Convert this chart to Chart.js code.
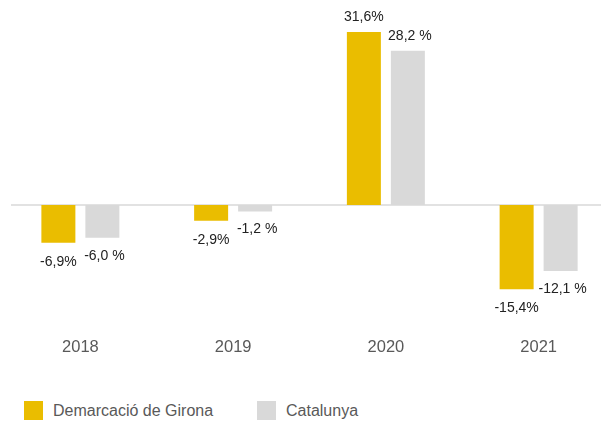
<!DOCTYPE html>
<html><head><meta charset="utf-8">
<script src="https://cdn.jsdelivr.net/npm/chart.js@4.4.1/dist/chart.umd.min.js"></script>
<style>
html,body{margin:0;padding:0;background:#fff;width:601px;height:423px;overflow:hidden;position:relative;}
#wrap{position:absolute;left:4px;top:0;width:611px;height:358px;}
#legend{position:absolute;left:0;top:401px;width:601px;height:19px;font-family:"Liberation Sans",Arial,sans-serif;font-size:16px;color:#595959;}
.item{position:absolute;top:0;height:19px;white-space:nowrap;}
.item:nth-child(1){left:24px;}
.item:nth-child(2){left:257px;}
.box{position:absolute;left:0;top:0;width:19px;height:19px;}
.txt{position:absolute;left:29px;top:0;line-height:19px;}
</style></head><body>
<div id="wrap"><canvas id="c" width="611" height="358"></canvas></div>
<div id="legend"></div>
<script>
const years = ['2018', '2019', '2020', '2021'];
const seriesNames = ['Demarcació de Girona', 'Catalunya'];
const gironaValues = [-6.9, -2.9, 31.6, -15.4];
const catalunyaValues = [-6.0, -1.2, 28.2, -12.1];
const gironaLabels = ['-6,9%', '-2,9%', '31,6%', '-15,4%'];
const catalunyaLabels = ['-6,0 %', '-1,2 %', '28,2 %', '-12,1 %'];
const seriesColors = ['#EABD00', '#D9D9D9'];
const valueLabels = [gironaLabels, catalunyaLabels];

const zeroLine = {
  id: 'zeroLine',
  beforeDatasetsDraw(chart) {
    const ctx = chart.ctx, a = chart.chartArea;
    const y = chart.scales.y.getPixelForValue(0);
    ctx.save();
    ctx.strokeStyle = '#D9D9D9';
    ctx.lineWidth = 1.5;
    ctx.beginPath();
    ctx.moveTo(a.left + 7, y);
    ctx.lineTo(a.right, y);
    ctx.stroke();
    ctx.restore();
  }
};

const barLabels = {
  id: 'barLabels',
  afterDatasetsDraw(chart) {
    const ctx = chart.ctx;
    ctx.save();
    ctx.font = '14px "Liberation Sans", Arial, sans-serif';
    ctx.fillStyle = '#222222';
    ctx.textAlign = 'center';
    ctx.textBaseline = 'middle';
    chart.data.datasets.forEach((ds, di) => {
      const meta = chart.getDatasetMeta(di);
      meta.data.forEach((el, i) => {
        const v = ds.data[i];
        const dx = di === 1 ? 2 : 0;
        const y = v >= 0 ? el.y - 15 : el.y + (di === 1 ? 18 : 19);
        ctx.fillText(valueLabels[di][i], el.x + dx, y);
      });
    });
    ctx.restore();
  }
};

const chart = new Chart(document.getElementById('c'), {
  type: 'bar',
  data: {
    labels: years,
    datasets: [
      { label: seriesNames[0], data: gironaValues, backgroundColor: seriesColors[0], borderWidth: 0 },
      { label: seriesNames[1], data: catalunyaValues, backgroundColor: seriesColors[1], borderWidth: 0 }
    ]
  },
  options: {
    responsive: false,
    animation: false,
    events: [],
    layout: { padding: { top: 8, bottom: 0, left: 0, right: 0 } },
    datasets: { bar: { categoryPercentage: 0.576, barPercentage: 0.773 } },
    plugins: { legend: { display: false }, tooltip: { enabled: false } },
    scales: {
      x: {
        grid: { display: false, drawTicks: false },
        border: { display: false },
        ticks: {
          color: '#595959',
          padding: 1,
          font: { family: '"Liberation Sans", Arial, sans-serif', size: 16.5 }
        }
      },
      y: {
        display: false,
        min: -24,
        max: 36
      }
    }
  },
  plugins: [zeroLine, barLabels]
});

const legend = document.getElementById('legend');
chart.data.datasets.forEach(ds => {
  const item = document.createElement('div');
  item.className = 'item';
  const box = document.createElement('div');
  box.className = 'box';
  box.style.background = ds.backgroundColor;
  const txt = document.createElement('div');
  txt.className = 'txt';
  txt.textContent = ds.label;
  item.appendChild(box);
  item.appendChild(txt);
  legend.appendChild(item);
});
</script>
</body></html>
